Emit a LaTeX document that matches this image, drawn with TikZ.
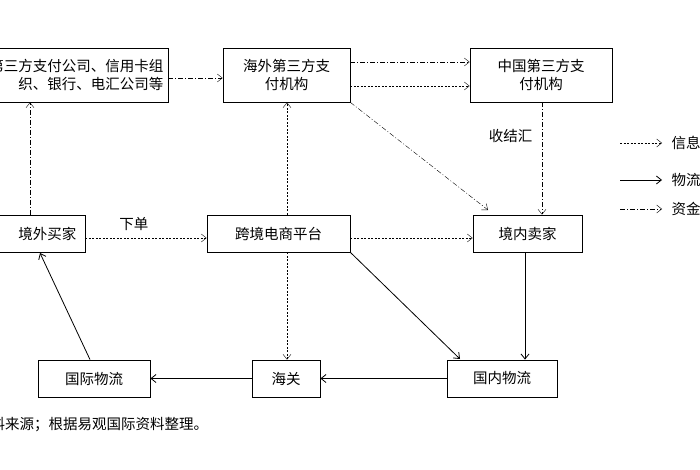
\documentclass[tikz,border=0pt]{standalone}
\usepackage{fontspec}
\setmainfont{Noto Sans CJK SC}
\usetikzlibrary{arrows.meta}
\begin{document}
\begin{tikzpicture}[x=1pt,y=-1pt,font=\fontsize{14.5}{18}\selectfont,
 box/.style={draw,thick,inner sep=0pt},
 info/.style={draw,densely dashed,dash pattern=on 2pt off 1.5pt,-{Straight Barb[length=5pt,width=8pt]}},
 phy/.style={draw,thick,-{Straight Barb[length=5pt,width=8pt]}},
 money/.style={draw,dash pattern=on 5pt off 2pt on 1pt off 2pt,-{Straight Barb[length=5pt,width=8pt]}}]
\useasboundingbox (0,0) rectangle (700,470);
\clip (0,0) rectangle (700,470);
\node[box,minimum width=240pt,minimum height=54pt] (pay) at (48,75) {};
\node[anchor=east,align=right] (payt) at (167,75) {第三方支付公司、信用卡组\\织、银行、电汇公司等};
\node[box,minimum width=127pt,minimum height=54pt,align=center] (hw) at (286.5,75) {海外第三方支\\付机构};
\node[box,minimum width=142pt,minimum height=54pt,align=center] (zg) at (541,75) {中国第三方支\\付机构};
\node[box,minimum width=130pt,minimum height=37pt] (buyer) at (20,233.5) {};
\node[anchor=east] (buyert) at (80,233.5) {境外买家};
\node[box,minimum width=143pt,minimum height=37pt] (plat) at (278.5,233.5) {跨境电商平台};
\node[box,minimum width=109pt,minimum height=37pt] (seller) at (527.5,233.5) {境内卖家};
\node[box,minimum width=112pt,minimum height=37pt] (intl) at (94,378.5) {国际物流};
\node[box,minimum width=68pt,minimum height=37pt] (cus) at (286,378.5) {海关};
\node[box,minimum width=110pt,minimum height=37pt] (dom) at (502,378.5) {国内物流};
\node[anchor=west,inner sep=0pt] (src) at (-24,425) {资料来源；根据易观国际资料整理。};
% connectors
\draw[money] (buyer.north -| 30,0) -- (pay.south -| 30,0);
\draw[money] (pay.east |- 0,78) -- (hw.west |- 0,78);
\draw[money] (hw.east |- 0,62) -- (zg.west |- 0,62);
\draw[info] (hw.east |- 0,86) -- (zg.west |- 0,86);
\draw[info] (plat.north -| 287,0) -- (hw.south -| 287,0);
\draw[money] (hw.south east) -- (488,210);
\draw[money] (zg.south -| 542,0) -- (seller.north -| 542,0) node[pos=0.3,left=6pt] (jh) {收结汇};
\draw[info] (buyer.east |- 0,238) -- (plat.west |- 0,238) node[pos=0.4,above=4pt] (xd) {下单};
\draw[info] (plat.east |- 0,238) -- (seller.west |- 0,238);
\draw[info] (plat.south -| 287,0) -- (cus.north -| 287,0);
\draw[phy] (plat.south east) -- (460,359);
\draw[phy] (seller.south -| 525,0) -- (dom.north -| 525,0);
\draw[phy] (dom.west) -- (cus.east);
\draw[phy] (cus.west) -- (intl.east);
\draw[phy] (intl.north -| 90,0) -- (40,253);
% legend
\coordinate (l1a) at (620,143); \coordinate (l1b) at (662,143);
\coordinate (l2a) at (620,180); \coordinate (l2b) at (662,180);
\coordinate (l3a) at (620,209); \coordinate (l3b) at (662,209);
\draw[info] (l1a) -- (l1b); \draw[phy] (l2a) -- (l2b); \draw[money] (l3a) -- (l3b);
\node[anchor=west] (t1) at (668,143) {信息流};
\node[anchor=west] (t2) at (668,180) {物流};
\node[anchor=west] (t3) at (668,209) {资金流};
\end{tikzpicture}
\end{document}
